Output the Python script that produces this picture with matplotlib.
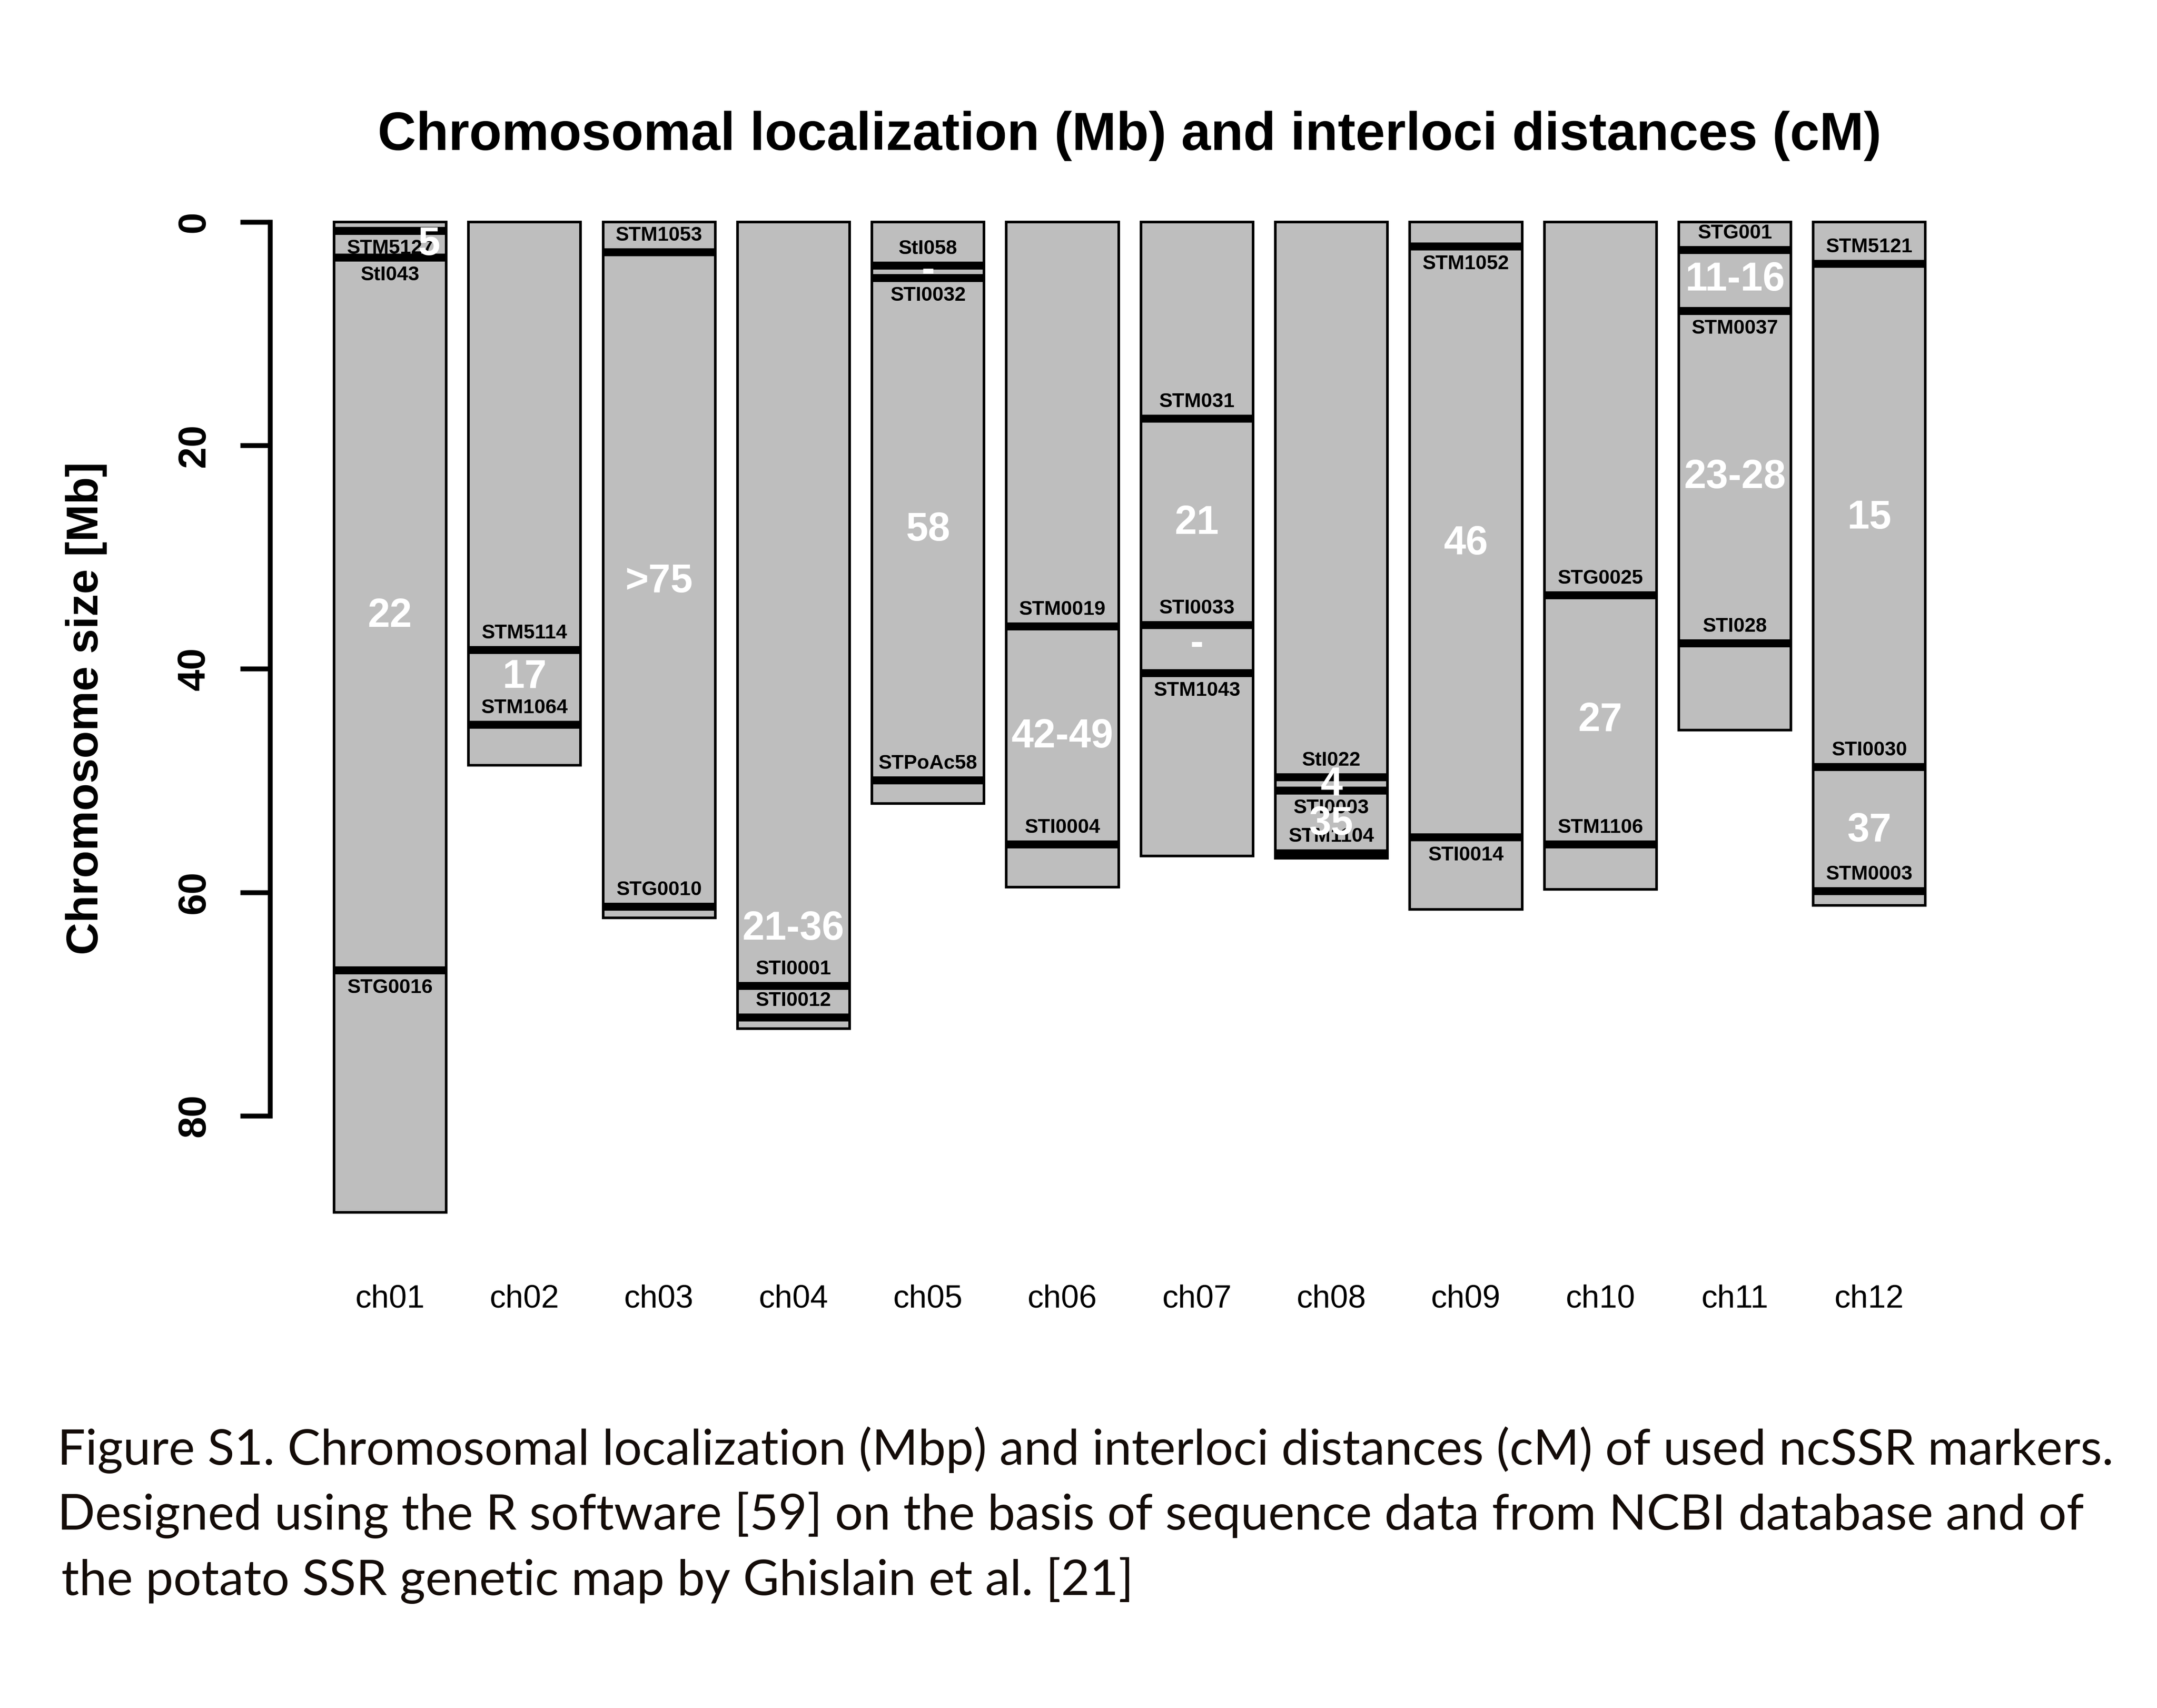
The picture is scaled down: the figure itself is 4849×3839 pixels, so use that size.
from matplotlib import pyplot as plt
from matplotlib.patches import Rectangle

# chromosome sizes (Mb)
chrom_names = ['ch01', 'ch02', 'ch03', 'ch04', 'ch05', 'ch06',
               'ch07', 'ch08', 'ch09', 'ch10', 'ch11', 'ch12']
chrom_len = [88.66, 48.61, 62.29, 72.21, 52.07, 59.53,
             56.76, 56.94, 61.54, 59.76, 45.48, 61.16]

# SSR markers: chromosome index, name, position (Mb), label side
marker_chrom = [1, 1, 1, 2, 2, 3, 3, 4, 4, 5, 5, 5, 6, 6, 7, 7, 7,
                8, 8, 8, 9, 9, 10, 10, 11, 11, 11, 12, 12, 12]
marker_name = ['STM5127', 'StI043', 'STG0016', 'STM5114', 'STM1064',
               'STM1053', 'STG0010', 'STI0001', 'STI0012',
               'StI058', 'STI0032', 'STPoAc58', 'STM0019', 'STI0004',
               'STM031', 'STI0033', 'STM1043', 'StI022', 'STI0003', 'STM1104',
               'STM1052', 'STI0014', 'STG0025', 'STM1106',
               'STG001', 'STM0037', 'STI028', 'STM5121', 'STI0030', 'STM0003']
marker_pos = [0.8, 3.2, 67.0, 38.3, 45.0, 2.7, 61.3, 68.4, 71.2,
              3.9, 5.0, 50.0, 36.2, 55.7, 17.6, 36.1, 40.4, 49.7, 50.9, 56.5,
              2.2, 55.1, 33.4, 55.7, 2.5, 7.95, 37.7, 3.75, 48.8, 59.9]
marker_side = ['below', 'below', 'below', 'above', 'above', 'above', 'above',
               'above', 'above', 'above', 'below', 'above', 'above', 'above',
               'above', 'above', 'below', 'above', 'below', 'above',
               'below', 'below', 'above', 'above', 'above', 'below', 'above',
               'above', 'above', 'above']

# interloci distances (cM) and where they are written (Mb)
dist_chrom = [1, 1, 2, 3, 4, 5, 5, 6, 7, 7, 8, 8, 9, 10, 11, 11, 12, 12]
dist_text = ['5', '22', '17', '>75', '21-36', '-', '58', '42-49', '21', '-',
             '4', '35', '46', '27', '11-16', '23-28', '15', '37']
dist_y = [2.0, 35.3, 40.8, 32.2, 63.3, 4.4, 27.6, 46.1, 27.0, 37.8,
          50.4, 53.9, 28.8, 44.6, 5.2, 22.9, 26.5, 54.5]

title = 'Chromosomal localization (Mb) and interloci distances (cM)'
ylabel = 'Chromosome size [Mb]'
caption = ['Figure S1. Chromosomal localization (Mbp) and interloci distances (cM) of used ncSSR markers.',
           'Designed using the R software [59] on the basis of sequence data from NCBI database and of',
           'the potato SSR genetic map by Ghislain et al. [21]']

plt.rcParams['font.family'] = ['Liberation Sans', 'DejaVu Sans']

W, H, DPI = 4849, 3839, 300
fig = plt.figure(figsize=(W / DPI, H / DPI), dpi=DPI)
ax = fig.add_axes([0.12518, 0.26830, 0.78512, 0.60172])
ax.set_xlim(0.107, 12.7)
ax.set_ylim(92, 0)

bar_w = 0.834
grey = '#bebebe'

for i, L in enumerate(chrom_len):
    x = i + 1
    ax.add_patch(Rectangle((x - bar_w / 2, 0), bar_w, L, facecolor=grey,
                           edgecolor='black', linewidth=1.4, clip_on=False, zorder=2))

for c, name, pos, side in zip(marker_chrom, marker_name, marker_pos, marker_side):
    ax.hlines(pos, c - bar_w / 2, c + bar_w / 2, colors='black', linewidth=4.3,
              zorder=3, clip_on=False)
    dy = 9 if side == 'above' else -9.5
    ax.annotate(name, (c, pos), xytext=(0, dy), textcoords='offset points',
                ha='center', va='center', fontsize=10.8, fontweight='bold',
                zorder=4, annotation_clip=False)

nudge = {0: 0.29}  # the tiny ch01 interval label sits off-centre
for k, (c, txt, y) in enumerate(zip(dist_chrom, dist_text, dist_y)):
    ax.text(c + nudge.get(k, 0), y, txt, ha='center', va='center', color='white',
            fontsize=21.5, fontweight='bold', zorder=5, clip_on=False)

# axes styling (R base-graphics look)
for s in ['top', 'right', 'bottom']:
    ax.spines[s].set_visible(False)
ax.spines['left'].set_bounds(0, 80)
ax.spines['left'].set_linewidth(2.6)
ax.set_yticks([0, 20, 40, 60, 80])
ax.tick_params(axis='y', length=16, width=2.6, pad=15, labelsize=21, labelrotation=90)
for t in ax.get_yticklabels():
    t.set_fontweight('bold')
    t.set_va('center')
ax.set_xticks([])
for i, n in enumerate(chrom_names):
    ax.text(i + 1, -0.048, n, transform=ax.get_xaxis_transform(),
            ha='center', va='center', fontsize=17.3)

fig.text(0.5236, 0.9203, title, ha='center', va='center', fontsize=28.7, fontweight='bold')
fig.text(0.040, 0.5853, ylabel, ha='center', va='center', rotation=90,
         fontsize=24.2, fontweight='bold')

# caption, scaled so the first line spans the same width as the original
cap_x = [129 / W, 129 / W, 138 / W]
cap_y = [1 - 3292 / H, 1 - 3438 / H, 1 - 3585 / H]
cap_font = ['Lato', 'DejaVu Sans']
renderer = fig.canvas.get_renderer()
probe = fig.text(0, 0, caption[0], fontsize=24, family=cap_font)
w = probe.get_window_extent(renderer).width
probe.remove()
cap_size = 24 * 4626 / w
for x, y, line in zip(cap_x, cap_y, caption):
    fig.text(x, y, line, ha='left', va='baseline', fontsize=cap_size,
             family=cap_font, color='#140c08')

fig.savefig('out.png', dpi=DPI, facecolor='white')
